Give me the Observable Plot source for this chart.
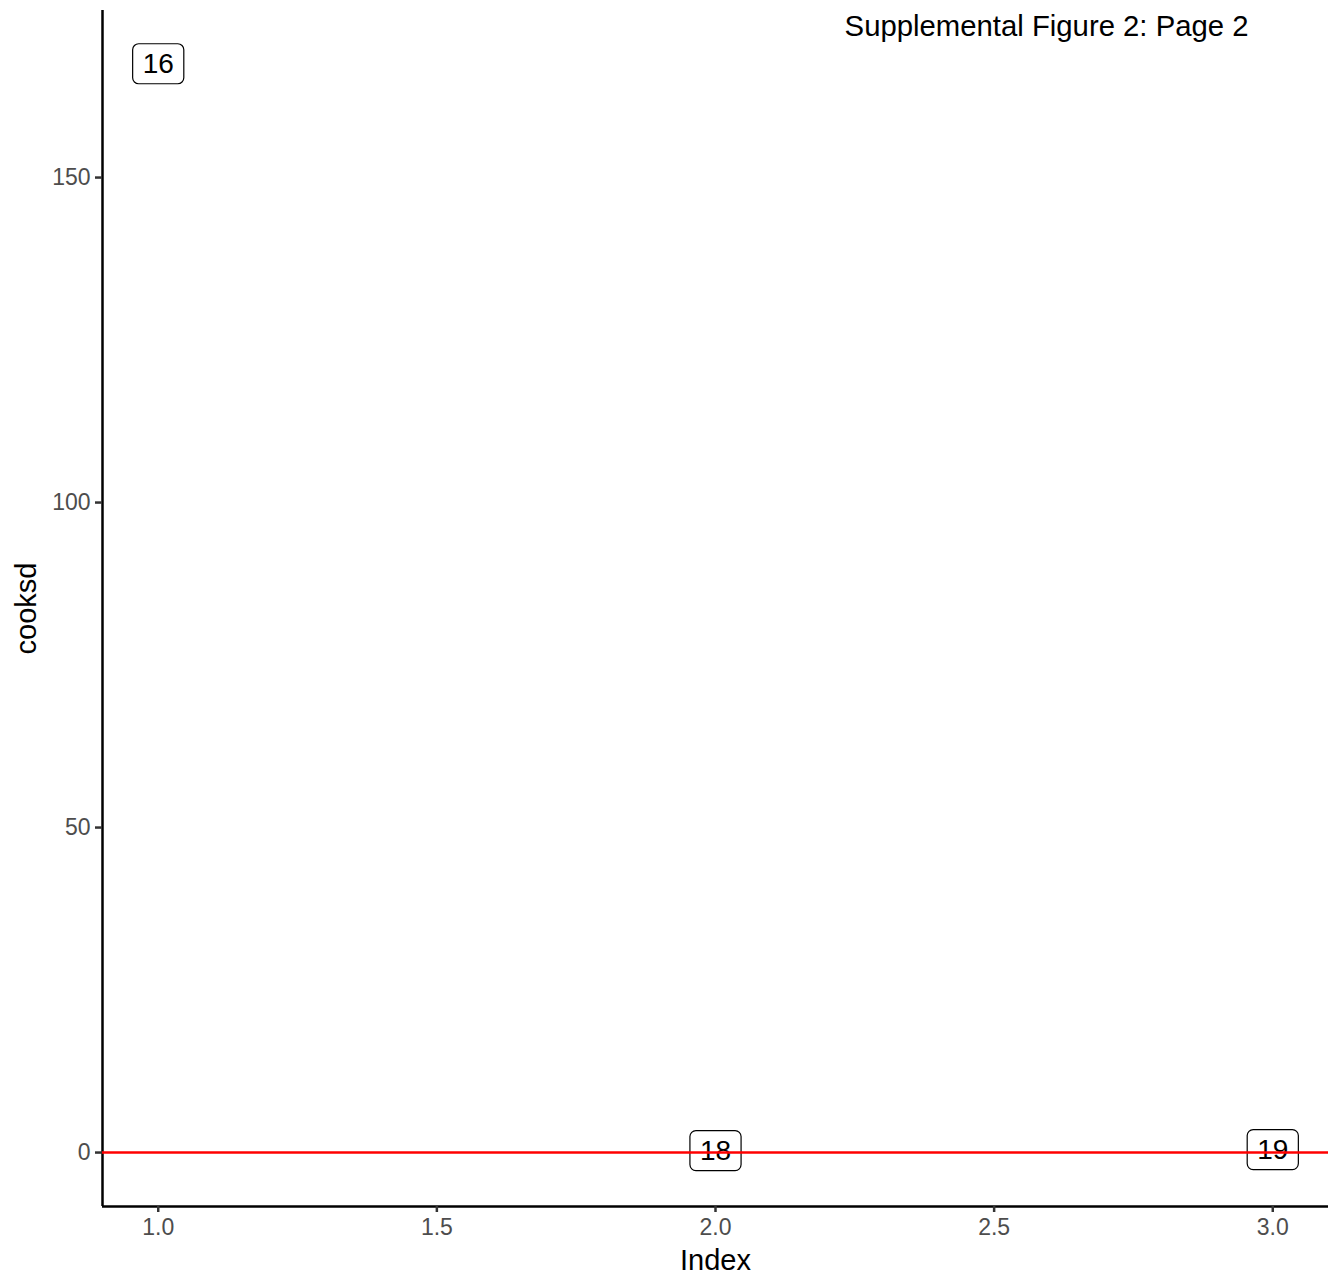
<!DOCTYPE html>
<html>
<head>
<meta charset="utf-8">
<script src="https://cdn.jsdelivr.net/npm/d3@7"></script>
<script src="https://cdn.jsdelivr.net/npm/@observablehq/plot@0.6"></script>
<style>
  html, body { margin: 0; padding: 0; background: #fff; }
  #chart { width: 1344px; height: 1277px; }
</style>
</head>
<body>
<div id="chart"></div>
<script>
const obsIndex = [1, 2, 3];
const obsLabel = ["16", "18", "19"];
const cooksd = [167.5, 0.3, 0.45];
const threshold = [0];
const xTicks = [1.0, 1.5, 2.0, 2.5, 3.0];
const yTicks = [0, 50, 100, 150];
const titleText = "Supplemental Figure 2: Page 2";

const data = obsIndex.map((x, i) => ({x, y: cooksd[i], label: obsLabel[i]}));
const xDomain = [0.9, 3.1];
const yDomain = [-8.3, 175.7];

const font = "'Liberation Sans', Arial, Helvetica, sans-serif";

const plot = Plot.plot({
  width: 1344,
  height: 1277,
  marginLeft: 102,
  marginRight: 16,
  marginTop: 10,
  marginBottom: 71,
  style: {fontFamily: font, background: "#fff"},
  x: {domain: xDomain, ticks: xTicks, tickFormat: d3.format(".1f")},
  y: {domain: yDomain, ticks: yTicks},
  marks: [
    Plot.ruleX([xDomain[0]], {stroke: "#000", strokeWidth: 2.5}),
    Plot.ruleY([yDomain[0]], {stroke: "#000", strokeWidth: 2.5}),
    Plot.axisX({ticks: xTicks, tickFormat: d3.format(".1f"), tickSize: 6, tickPadding: 6, stroke: "#333", strokeWidth: 2.5, fill: "#4D4D4D", fontSize: 23, label: null}),
    Plot.axisY({ticks: yTicks, tickSize: 7, tickPadding: 5, stroke: "#333", strokeWidth: 2.5, fill: "#4D4D4D", fontSize: 23, label: null}),
    Plot.axisX({ticks: [], label: "Index", labelAnchor: "center", labelArrow: "none", labelOffset: 63, fontSize: 29, fill: "#000"}),
    Plot.axisY({ticks: [], label: "cooksd", labelAnchor: "center", labelArrow: "none", labelOffset: 87, fontSize: 29, fill: "#000"}),
    Plot.text(data, {x: "x", y: "y", text: "label", fontSize: 28, fill: "#000", className: "boxlabel"}),
    Plot.ruleY(threshold, {stroke: "red", strokeWidth: 2.6}),
    Plot.text([titleText], {frameAnchor: "top-right", text: d => d, fontSize: 29.3, fill: "#000", dx: -80, dy: 5, lineAnchor: "top"})
  ]
});

document.getElementById("chart").appendChild(plot);

// draw rounded boxes behind the labels
d3.select(plot).selectAll("g.boxlabel text").each(function() {
  const bb = this.getBBox();
  const padX = 10, padY = 5;
  d3.select(this.parentNode).insert("rect", () => this)
    .attr("x", bb.x - padX)
    .attr("y", bb.y - padY + 1)
    .attr("width", bb.width + 2 * padX)
    .attr("height", bb.height + 2 * padY - 1)
    .attr("rx", 6).attr("ry", 6)
    .attr("fill", "#fff")
    .attr("stroke", "#000")
    .attr("stroke-width", 1.2)
    .attr("transform", this.getAttribute("transform"));
});
</script>
</body>
</html>
